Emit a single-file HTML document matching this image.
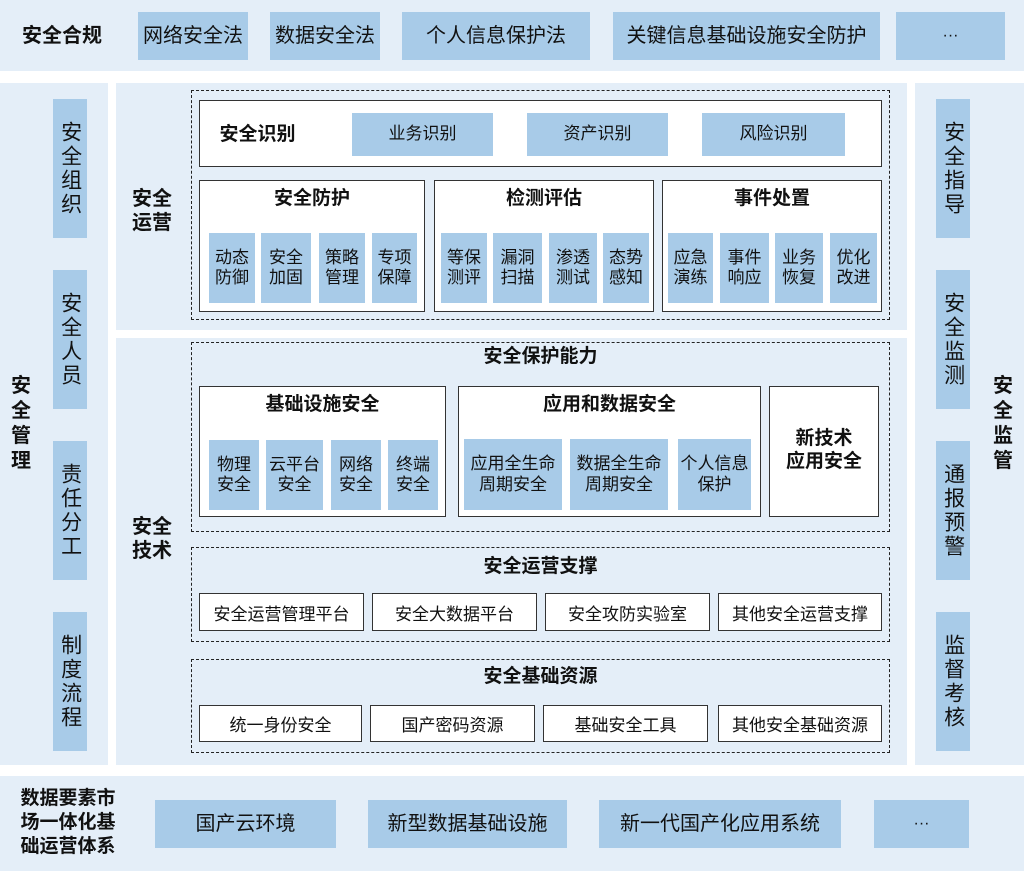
<!DOCTYPE html>
<html><head><meta charset="utf-8"><style>
*{margin:0;padding:0;box-sizing:border-box}
body{width:1024px;height:871px;background:#fff;position:relative;overflow:hidden;font-family:"Liberation Sans","Noto Sans CJK SC",sans-serif;color:#111}
div{position:absolute}
.bg{background:#e4eef8}
.b{background:#a8cbe8;display:flex;align-items:center;justify-content:center;text-align:center;line-height:1.2}
.w{background:#fff;border:1.5px solid #333}
.wt{background:#fff;border:1.5px solid #333;display:flex;align-items:center;justify-content:center;font-size:17px}
.d{border:1.6px dashed #222}
.t{font-weight:bold;text-align:center;line-height:1.2}
.v{writing-mode:vertical-rl;letter-spacing:3px;font-size:21px}
.s{font-size:17px}
</style></head><body>
<div class="bg" style="left:0;top:0;width:1024px;height:71px"></div>
<div class="t" style="left:12px;top:24px;width:100px;font-size:20px">安全合规</div>
<div class="b" style="left:138px;top:12px;width:110px;height:48px;font-size:20px">网络安全法</div>
<div class="b" style="left:270px;top:12px;width:110px;height:48px;font-size:20px">数据安全法</div>
<div class="b" style="left:402px;top:12px;width:188px;height:48px;font-size:20px">个人信息保护法</div>
<div class="b" style="left:613px;top:12px;width:267px;height:48px;font-size:20px">关键信息基础设施安全防护</div>
<div class="b" style="left:896px;top:12px;width:109px;height:48px;font-size:16px">···</div>

<div class="bg" style="left:0;top:83px;width:108px;height:682px"></div>
<div class="t" style="left:10px;top:374px;width:22px;font-size:20px;line-height:1.25">安全管理</div>
<div class="b v" style="left:53px;top:99px;width:34px;height:139px">安全组织</div>
<div class="b v" style="left:53px;top:270px;width:34px;height:139px">安全人员</div>
<div class="b v" style="left:53px;top:441px;width:34px;height:139px">责任分工</div>
<div class="b v" style="left:53px;top:612px;width:34px;height:139px">制度流程</div>

<div class="bg" style="left:915px;top:83px;width:109px;height:682px"></div>
<div class="t" style="left:992px;top:374px;width:22px;font-size:20px;line-height:1.25">安全监管</div>
<div class="b v" style="left:936px;top:99px;width:34px;height:139px">安全指导</div>
<div class="b v" style="left:936px;top:270px;width:34px;height:139px">安全监测</div>
<div class="b v" style="left:936px;top:441px;width:34px;height:139px">通报预警</div>
<div class="b v" style="left:936px;top:612px;width:34px;height:139px">监督考核</div>

<div class="bg" style="left:116px;top:83px;width:791px;height:247px"></div>
<div class="t" style="left:130px;top:187px;width:44px;font-size:20px">安全<br>运营</div>
<div class="d" style="left:191px;top:90px;width:699px;height:230px"></div>
<div class="w" style="left:199px;top:100px;width:683px;height:67px"></div>
<div class="t" style="left:210px;top:124px;width:95px;font-size:19px">安全识别</div>
<div class="b s" style="left:352px;top:113px;width:141px;height:43px">业务识别</div>
<div class="b s" style="left:527px;top:113px;width:141px;height:43px">资产识别</div>
<div class="b s" style="left:702px;top:113px;width:143px;height:43px">风险识别</div>

<div class="w" style="left:199px;top:180px;width:226px;height:132px"></div>
<div class="t" style="left:199px;top:188px;width:226px;font-size:19px">安全防护</div>
<div class="b s" style="left:209px;top:233px;width:46px;height:70px">动态<br>防御</div>
<div class="b s" style="left:261px;top:233px;width:50px;height:70px">安全<br>加固</div>
<div class="b s" style="left:319px;top:233px;width:46px;height:70px">策略<br>管理</div>
<div class="b s" style="left:372px;top:233px;width:45px;height:70px">专项<br>保障</div>

<div class="w" style="left:434px;top:180px;width:220px;height:132px"></div>
<div class="t" style="left:434px;top:188px;width:220px;font-size:19px">检测评估</div>
<div class="b s" style="left:441px;top:233px;width:46px;height:70px">等保<br>测评</div>
<div class="b s" style="left:493px;top:233px;width:49px;height:70px">漏洞<br>扫描</div>
<div class="b s" style="left:549px;top:233px;width:48px;height:70px">渗透<br>测试</div>
<div class="b s" style="left:603px;top:233px;width:46px;height:70px">态势<br>感知</div>

<div class="w" style="left:662px;top:180px;width:220px;height:132px"></div>
<div class="t" style="left:662px;top:188px;width:220px;font-size:19px">事件处置</div>
<div class="b s" style="left:668px;top:233px;width:45px;height:70px">应急<br>演练</div>
<div class="b s" style="left:720px;top:233px;width:49px;height:70px">事件<br>响应</div>
<div class="b s" style="left:775px;top:233px;width:48px;height:70px">业务<br>恢复</div>
<div class="b s" style="left:830px;top:233px;width:47px;height:70px">优化<br>改进</div>

<div class="bg" style="left:116px;top:338px;width:791px;height:427px"></div>
<div class="t" style="left:130px;top:515px;width:44px;font-size:20px">安全<br>技术</div>
<div class="d" style="left:191px;top:342px;width:699px;height:190px"></div>
<div class="t" style="left:191px;top:346px;width:699px;font-size:19px">安全保护能力</div>
<div class="w" style="left:199px;top:386px;width:247px;height:131px"></div>
<div class="t" style="left:199px;top:394px;width:247px;font-size:19px">基础设施安全</div>
<div class="b s" style="left:209px;top:440px;width:50px;height:70px">物理<br>安全</div>
<div class="b s" style="left:266px;top:440px;width:57px;height:70px">云平台<br>安全</div>
<div class="b s" style="left:331px;top:440px;width:50px;height:70px">网络<br>安全</div>
<div class="b s" style="left:388px;top:440px;width:50px;height:70px">终端<br>安全</div>
<div class="w" style="left:458px;top:386px;width:303px;height:131px"></div>
<div class="t" style="left:458px;top:394px;width:303px;font-size:19px">应用和数据安全</div>
<div class="b s" style="left:464px;top:439px;width:98px;height:71px">应用全生命<br>周期安全</div>
<div class="b s" style="left:570px;top:439px;width:98px;height:71px">数据全生命<br>周期安全</div>
<div class="b s" style="left:678px;top:439px;width:73px;height:71px">个人信息<br>保护</div>
<div class="w" style="left:769px;top:386px;width:110px;height:131px"></div>
<div class="t" style="left:769px;top:428px;width:110px;font-size:19px">新技术<br>应用安全</div>

<div class="d" style="left:191px;top:547px;width:699px;height:95px"></div>
<div class="t" style="left:191px;top:556px;width:699px;font-size:19px">安全运营支撑</div>
<div class="wt" style="left:199px;top:593px;width:165px;height:38px">安全运营管理平台</div>
<div class="wt" style="left:372px;top:593px;width:165px;height:38px">安全大数据平台</div>
<div class="wt" style="left:545px;top:593px;width:165px;height:38px">安全攻防实验室</div>
<div class="wt" style="left:718px;top:593px;width:164px;height:38px">其他安全运营支撑</div>

<div class="d" style="left:191px;top:659px;width:699px;height:94px"></div>
<div class="t" style="left:191px;top:666px;width:699px;font-size:19px">安全基础资源</div>
<div class="wt" style="left:199px;top:705px;width:163px;height:37px">统一身份安全</div>
<div class="wt" style="left:370px;top:705px;width:165px;height:37px">国产密码资源</div>
<div class="wt" style="left:543px;top:705px;width:165px;height:37px">基础安全工具</div>
<div class="wt" style="left:718px;top:705px;width:164px;height:37px">其他安全基础资源</div>

<div class="bg" style="left:0;top:776px;width:1024px;height:95px"></div>
<div class="t" style="left:10px;top:787px;width:116px;font-size:19px;line-height:1.25;text-align:center">数据要素市<br>场一体化基<br>础运营体系</div>
<div class="b" style="left:155px;top:800px;width:181px;height:48px;font-size:20px">国产云环境</div>
<div class="b" style="left:368px;top:800px;width:199px;height:48px;font-size:20px">新型数据基础设施</div>
<div class="b" style="left:599px;top:800px;width:242px;height:48px;font-size:20px">新一代国产化应用系统</div>
<div class="b" style="left:874px;top:800px;width:95px;height:48px;font-size:16px">···</div>
</body></html>
